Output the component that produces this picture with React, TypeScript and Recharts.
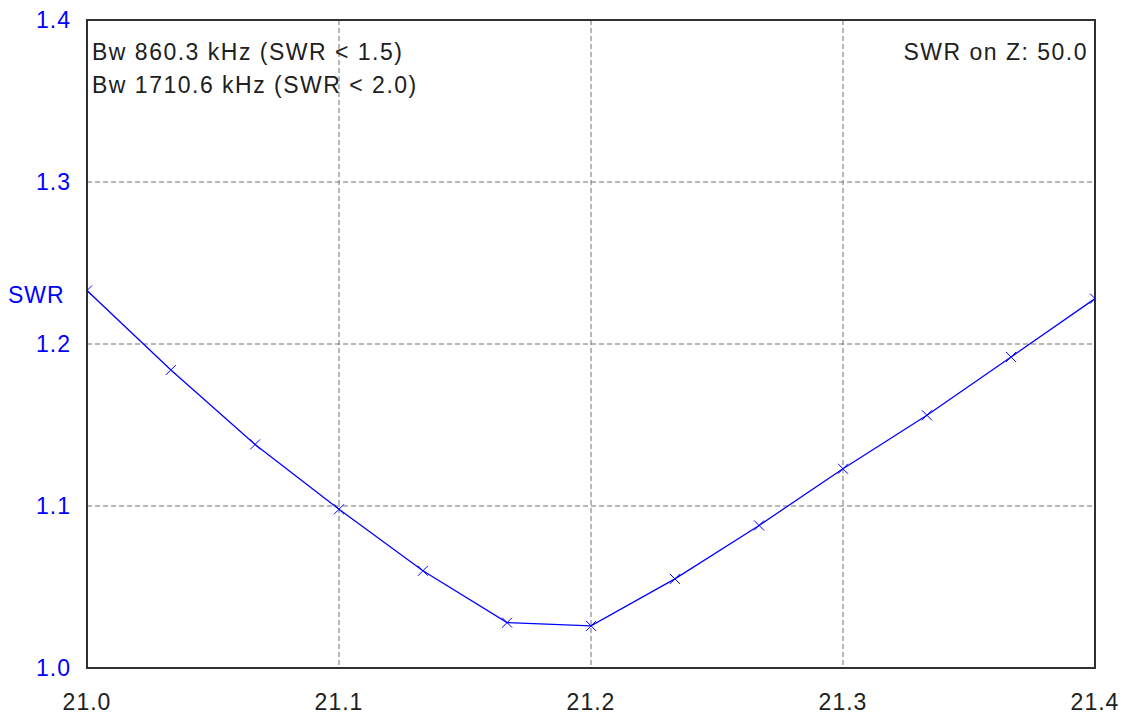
import React from 'react';
import {
  LineChart,
  Line,
  XAxis,
  YAxis,
  CartesianGrid,
  ReferenceArea,
  Customized,
} from 'recharts';

const freqs = [21.0, 21.0333, 21.0667, 21.1, 21.1333, 21.1667, 21.2, 21.2333, 21.2667, 21.3, 21.3333, 21.3667, 21.4];
const swr = [1.233, 1.184, 1.138, 1.098, 1.06, 1.028, 1.026, 1.055, 1.088, 1.123, 1.156, 1.192, 1.228];
const xTicks = [21.0, 21.1, 21.2, 21.3, 21.4];
const yTicks = [1.0, 1.1, 1.2, 1.3, 1.4];
const notes = ['Bw 860.3 kHz (SWR < 1.5)', 'Bw 1710.6 kHz (SWR < 2.0)'];
const zNote = 'SWR on Z: 50.0';

const data = freqs.map((f, i) => ({ f, swr: swr[i] }));

const FONT = 'Arial, "Liberation Sans", sans-serif';
const BLUE = '#0000ff';

// small "x" marker at every sample point
const CrossDot = (props: any) => {
  const { cx, cy } = props;
  if (cx == null || cy == null) return null;
  const s = 5;
  return (
    <g>
      <line x1={cx - s} y1={cy - s} x2={cx + s} y2={cy + s} stroke={BLUE} strokeWidth={1} />
      <line x1={cx - s} y1={cy + s} x2={cx + s} y2={cy - s} stroke={BLUE} strokeWidth={1} />
    </g>
  );
};

const Texts = () => (
  <g style={{ fontFamily: FONT, fontSize: 23, letterSpacing: 1.5 }}>
    <text x={92} y={60} fill="#202020">{notes[0]}</text>
    <text x={92} y={93} fill="#202020">{notes[1]}</text>
    <text x={1088} y={60} fill="#202020" textAnchor="end">{zNote}</text>
    <text x={8} y={303} fill={BLUE} style={{ letterSpacing: 1 }}>SWR</text>
  </g>
);

export default function App() {
  return (
    <div style={{ position: 'absolute', left: 0, top: 0, background: '#fff' }}>
      <LineChart
        width={1125}
        height={718}
        data={data}
        margin={{ top: 20, right: 30, bottom: 0, left: 0 }}
      >
        <CartesianGrid stroke="#707070" strokeDasharray="5 3" />
        <XAxis
          dataKey="f"
          type="number"
          domain={[21.0, 21.4]}
          ticks={xTicks}
          tickFormatter={(v: number) => v.toFixed(1)}
          height={50}
          axisLine={false}
          tickLine={false}
          tick={{ fill: '#202020', fontSize: 23, fontFamily: FONT, letterSpacing: 1 }}
          tickMargin={20}
          allowDataOverflow
        />
        <YAxis
          type="number"
          domain={[1.0, 1.4]}
          ticks={yTicks}
          tickFormatter={(v: number) => v.toFixed(1)}
          width={87}
          axisLine={false}
          tickLine={false}
          tick={{ fill: BLUE, fontSize: 23, fontFamily: FONT, letterSpacing: 1 }}
          tickMargin={10}
          allowDataOverflow
        />
        <ReferenceArea
          x1={21.0}
          x2={21.4}
          y1={1.0}
          y2={1.4}
          fill="none"
          stroke="#303030"
          strokeWidth={2}
          ifOverflow="visible"
        />
        <Line
          type="linear"
          dataKey="swr"
          stroke={BLUE}
          strokeWidth={1.3}
          dot={<CrossDot />}
          activeDot={false}
          isAnimationActive={false}
        />
        <Customized component={Texts} />
      </LineChart>
    </div>
  );
}
